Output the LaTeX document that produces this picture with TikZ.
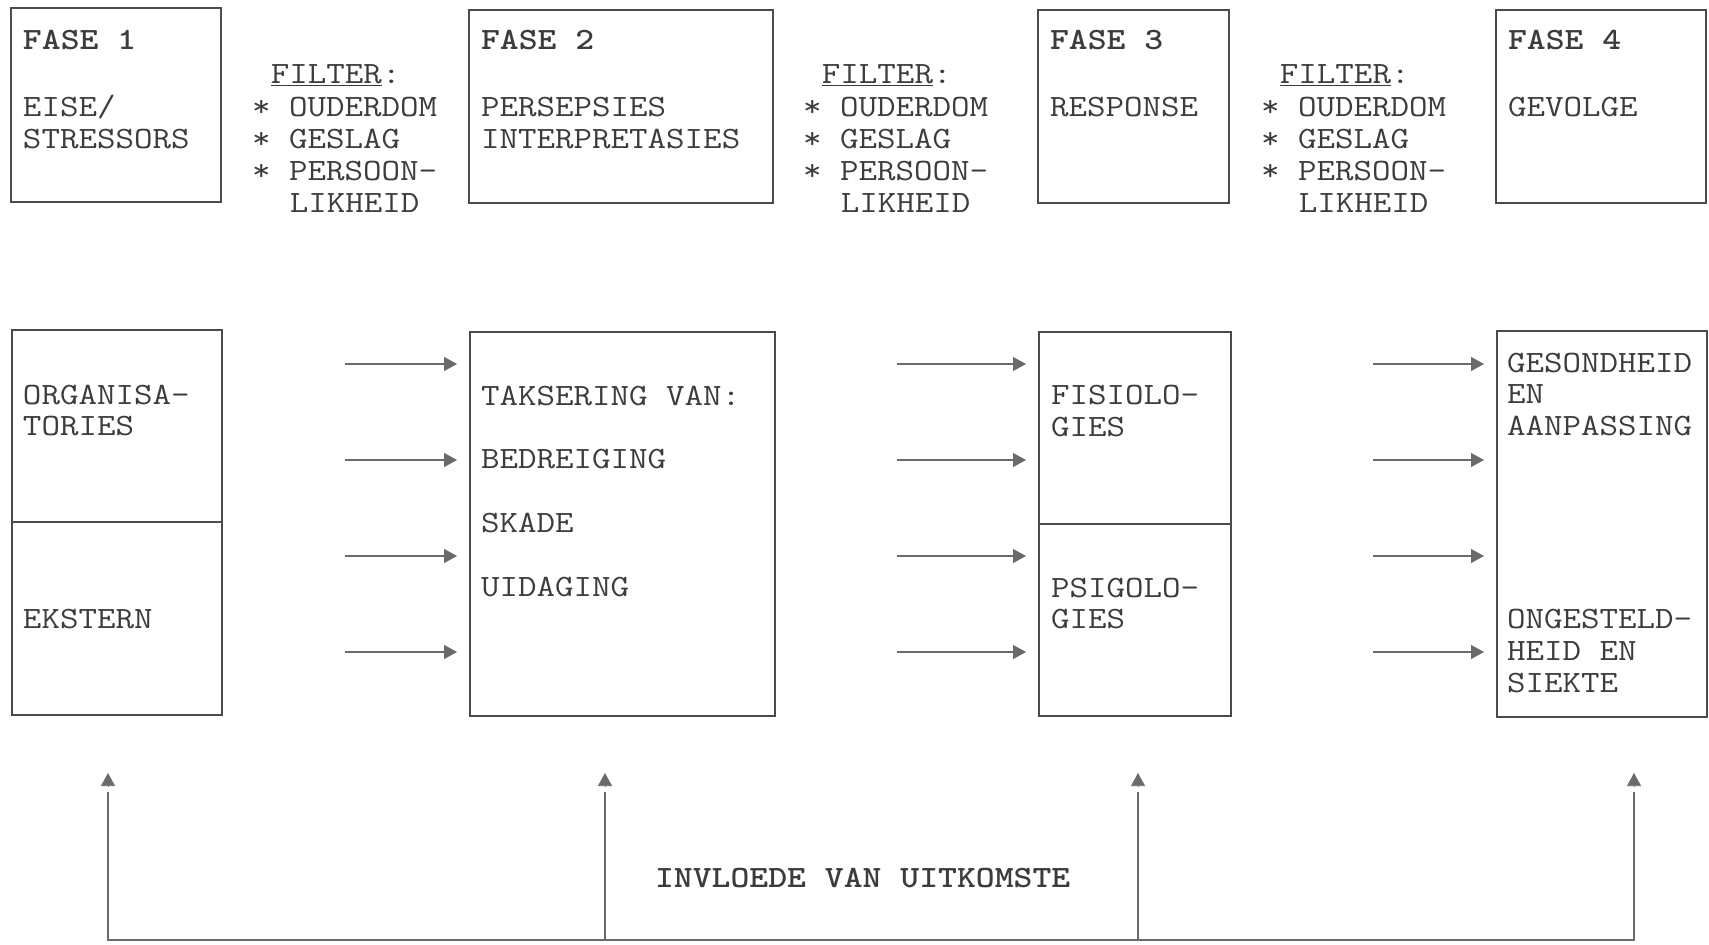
\documentclass[tikz,border=0pt]{standalone}
\usepackage{graphicx}
\usetikzlibrary{arrows.meta}

\definecolor{ink}{HTML}{3C3C3C}
\definecolor{frame}{HTML}{4A4A4A}
\definecolor{flowc}{HTML}{6A6A6A}

% typewriter text, widened a little to the pitch of the original typescript
\newcommand{\tw}[1]{\scalebox{1.16}[1]{#1}}

\begin{document}
\begin{tikzpicture}[x=1pt,y=-1pt,
  box/.style={draw=frame, line width=1.8pt, inner sep=0pt, outer sep=0pt, anchor=north west},
  txt/.style={inner sep=0pt, outer sep=0pt, anchor=base west, text=ink,
              font=\fontsize{31}{31}\selectfont\ttfamily},
  head/.style={txt, font=\fontsize{31}{31}\selectfont\ttfamily\bfseries},
  divider/.style={draw=frame, line width=1.8pt},
  flow/.style={draw=flowc, line width=1.4pt, -{Triangle[length=13pt,width=14pt]}, shorten >=13pt},
  feed/.style={draw=flowc, line width=1.6pt, line join=miter},
  feedtip/.style={draw=flowc, fill=flowc, line width=0.6pt, -{Triangle[length=13pt,width=14pt]}}
]
\useasboundingbox (0,0) rectangle (1709,945);

% ---------- phase boxes ----------
\node[box, minimum width=210pt, minimum height=194pt] (f1) at (11,8) {};
\node[box, minimum width=304pt, minimum height=193pt] (f2) at (469,10) {};
\node[box, minimum width=191pt, minimum height=193pt] (f3) at (1038,10) {};
\node[box, minimum width=210pt, minimum height=193pt] (f4) at (1496,10) {};

\node[head] (f1h) at (23,49)   {\tw{FASE 1}};
\node[txt]  (f1a) at (23,116)  {\tw{EISE/}};
\node[txt]  (f1b) at (23,148)  {\tw{STRESSORS}};

\node[head] (f2h) at (481,49)  {\tw{FASE 2}};
\node[txt]  (f2a) at (481,116) {\tw{PERSEPSIES}};
\node[txt]  (f2b) at (481,148) {\tw{INTERPRETASIES}};

\node[head] (f3h) at (1050,49)  {\tw{FASE 3}};
\node[txt]  (f3a) at (1050,116) {\tw{RESPONSE}};

\node[head] (f4h) at (1508,49)  {\tw{FASE 4}};
\node[txt]  (f4a) at (1508,116) {\tw{GEVOLGE}};

% ---------- filters between the phases ----------
\foreach \k/\xx in {1/252,2/803,3/1261}{
  \node[txt] (fl\k t) at (\xx+18.9,83)  {\tw{\underline{FILTER}:}};
  \node[txt] (fl\k a) at (\xx,116)      {\tw{* OUDERDOM}};
  \node[txt] (fl\k b) at (\xx,148)      {\tw{* GESLAG}};
  \node[txt] (fl\k c) at (\xx,180)      {\tw{* PERSOON-}};
  \node[txt] (fl\k d) at (\xx+37.8,212) {\tw{LIKHEID}};
}

% ---------- content boxes ----------
\node[box, minimum width=210pt, minimum height=385pt] (m1) at (12,330) {};
\node[box, minimum width=305pt, minimum height=384pt] (m2) at (470,332) {};
\node[box, minimum width=192pt, minimum height=384pt] (m3) at (1039,332) {};
\node[box, minimum width=210pt, minimum height=386pt] (m4) at (1497,331) {};

\coordinate (d1) at (0,522);
\coordinate (d3) at (0,524);
\draw[divider] (m1.west |- d1) -- (m1.east |- d1);
\draw[divider] (m3.west |- d3) -- (m3.east |- d3);

\node[txt] (m1a) at (23,404) {\tw{ORGANISA-}};
\node[txt] (m1b) at (23,435) {\tw{TORIES}};
\node[txt] (m1c) at (23,628) {\tw{EKSTERN}};

\node[txt] (m2a) at (481,405) {\tw{TAKSERING VAN:}};
\node[txt] (m2b) at (481,468) {\tw{BEDREIGING}};
\node[txt] (m2c) at (481,532) {\tw{SKADE}};
\node[txt] (m2d) at (481,596) {\tw{UIDAGING}};

\node[txt] (m3a) at (1051,404) {\tw{FISIOLO-}};
\node[txt] (m3b) at (1051,436) {\tw{GIES}};
\node[txt] (m3c) at (1051,597) {\tw{PSIGOLO-}};
\node[txt] (m3d) at (1051,628) {\tw{GIES}};

\node[txt] (m4a) at (1507,372) {\tw{GESONDHEID}};
\node[txt] (m4b) at (1507,403) {\tw{EN}};
\node[txt] (m4c) at (1507,435) {\tw{AANPASSING}};
\node[txt] (m4d) at (1507,628) {\tw{ONGESTELD-}};
\node[txt] (m4e) at (1507,660) {\tw{HEID EN}};
\node[txt] (m4f) at (1507,692) {\tw{SIEKTE}};

% ---------- arrows into each box ----------
\foreach \r/\yy in {1/364,2/460,3/556,4/652}{
  \coordinate (p\r) at (345,\yy);
  \coordinate (q\r) at (897,\yy);
  \coordinate (s\r) at (1373,\yy);
  \draw[flow] (p\r) -- (p\r -| m2.west);
  \draw[flow] (q\r) -- (q\r -| m3.west);
  \draw[flow] (s\r) -- (s\r -| m4.west);
}

% ---------- feedback of outcomes ----------
\foreach \i/\xx in {1/108,2/605,3/1138,4/1634}{
  \coordinate (b\i) at (\xx,940);
  \coordinate (g\i) at (\xx,792);
  \coordinate (h\i) at (\xx,786);
  \coordinate (t\i) at (\xx,773);
  \draw[feedtip] (h\i) -- (t\i);
}
\draw[feed] (g1) -- (b1) -- (b4) -- (g4);
\draw[feed] (b2) -- (g2);
\draw[feed] (b3) -- (g3);

\node[head] (inv) at (655,887) {\tw{INVLOEDE VAN UITKOMSTE}};
\end{tikzpicture}
\end{document}
